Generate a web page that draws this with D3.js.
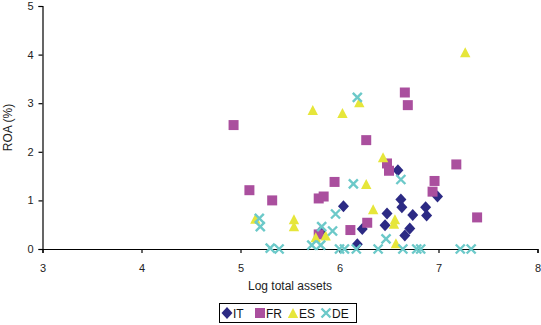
<!DOCTYPE html>
<html>
<head>
<meta charset="utf-8">
<script src="https://cdn.jsdelivr.net/npm/d3@7"></script>
<style>
  body { margin: 0; background: #fff; }
  svg { display: block; font-family: "Liberation Sans", Arial, sans-serif; }
</style>
</head>
<body>
<div id="chart"></div>
<script>
// Data: [log total assets, ROA %]
const itData = [
  [6.04, 0.88], [6.23, 0.41], [6.18, 0.10], [5.81, 0.36], [6.59, 1.62],
  [6.99, 1.08], [6.62, 1.02], [6.63, 0.86], [6.87, 0.86], [6.88, 0.69],
  [6.74, 0.70], [6.48, 0.73], [6.46, 0.49], [6.71, 0.42], [6.66, 0.28]
]
const frData = [
  [6.66, 3.22], [6.69, 2.96], [4.93, 2.55], [6.27, 2.24], [5.09, 1.21],
  [5.32, 1.00], [5.95, 1.38], [5.79, 1.04], [5.84, 1.08], [6.28, 0.54],
  [6.11, 0.39], [5.79, 0.30], [6.48, 1.76], [6.50, 1.61], [7.18, 1.74],
  [6.96, 1.40], [6.94, 1.18], [7.39, 0.65]
]
const esData = [
  [7.27, 4.05], [6.20, 3.02], [5.73, 2.86], [6.03, 2.80], [6.44, 1.89],
  [6.27, 1.34], [6.34, 0.82], [5.15, 0.62], [5.54, 0.61], [5.54, 0.47],
  [5.76, 0.24], [5.86, 0.28], [6.56, 0.61], [6.55, 0.52], [6.57, 0.12]
]
const deData = [
  [6.18, 3.12], [6.14, 1.34], [6.62, 1.43], [5.96, 0.72], [5.19, 0.63],
  [5.20, 0.46], [5.82, 0.46], [5.93, 0.37], [6.47, 0.21], [5.72, 0.08],
  [5.81, 0.08], [5.30, 0.02], [5.39, 0], [6.00, 0], [6.05, 0],
  [6.17, 0], [6.39, 0], [6.64, 0], [6.78, 0], [6.82, 0],
  [7.22, 0], [7.33, 0]
]
const seriesNames = ['IT', 'FR', 'ES', 'DE']
const xTicks = [3, 4, 5, 6, 7, 8]
const yTicks = [0, 1, 2, 3, 4, 5]

// Dimensions
const dimensions = {
  width: 541,
  height: 325,
  left: 42.5,
  right: 537.5,
  top: 6,
  bottom: 249
}

const colors = {
  IT: '#2c2a84',
  FR: '#aa4f9e',
  ES: '#e6e63a',
  DE: '#6cc9c9'
}

// marker paths, centred on 0,0
const shapes = {
  IT: 'M0,-6L5.5,0L0,6L-5.5,0Z',
  FR: 'M-5,-5H5V5H-5Z',
  ES: 'M0,-5L5.2,5H-5.2Z',
  DE: 'M-4.5,-4.5L4.5,4.5M-4.5,4.5L4.5,-4.5'
}

const svg = d3.select('#chart')
  .append('svg')
  .attr('width', dimensions.width)
  .attr('height', dimensions.height)

svg.append('rect')
  .attr('width', dimensions.width)
  .attr('height', dimensions.height)
  .attr('fill', '#fff')

// Scales
const xScale = d3.scaleLinear()
  .domain([3, 8])
  .range([dimensions.left, dimensions.right])

const yScale = d3.scaleLinear()
  .domain([0, 5])
  .range([dimensions.bottom, dimensions.top])

// Axes
const xAxis = d3.axisBottom(xScale)
  .tickValues(xTicks)
  .tickSize(4)
  .tickPadding(11)
  .tickFormat(d3.format('d'))

const yAxis = d3.axisLeft(yScale)
  .tickValues(yTicks)
  .tickSize(4)
  .tickPadding(5)
  .tickFormat(d3.format('d'))

const xAxisGroup = svg.append('g')
  .attr('transform', `translate(0, ${dimensions.bottom})`)
  .call(xAxis)

const yAxisGroup = svg.append('g')
  .attr('transform', `translate(${dimensions.left}, 0)`)
  .call(yAxis)

svg.selectAll('.domain, .tick line')
  .attr('stroke', '#000')
  .attr('stroke-width', 1.2)

svg.selectAll('.tick text')
  .attr('fill', '#222')
  .style('font-size', '11px')
  .style('font-family', '"Liberation Sans", Arial, sans-serif')

// Axis titles
svg.append('text')
  .attr('x', (dimensions.left + dimensions.right) / 2)
  .attr('y', 290)
  .attr('text-anchor', 'middle')
  .attr('fill', '#222')
  .style('font-size', '12px')
  .text('Log total assets')

svg.append('text')
  .attr('transform', `translate(12, ${(dimensions.top + dimensions.bottom) / 2}) rotate(-90)`)
  .attr('text-anchor', 'middle')
  .attr('fill', '#222')
  .style('font-size', '12px')
  .text('ROA (%)')

// Points
function drawSeries(name, data) {
  const g = svg.append('g').classed('series-' + name, true)
  const marks = g.selectAll('path')
    .data(data)
    .join('path')
    .attr('d', shapes[name])
    .attr('transform', d => `translate(${xScale(d[0])}, ${yScale(d[1])})`)

  if (name === 'DE') {
    marks.attr('fill', 'none')
      .attr('stroke', colors[name])
      .attr('stroke-width', 2.4)
  } else {
    marks.attr('fill', colors[name])
  }
}

drawSeries('IT', itData)
drawSeries('FR', frData)
drawSeries('ES', esData)
drawSeries('DE', deData)

// Legend
const legend = svg.append('g')

legend.append('rect')
  .attr('x', 219.5)
  .attr('y', 303.5)
  .attr('width', 137)
  .attr('height', 19)
  .attr('fill', '#fff')
  .attr('stroke', '#000')
  .attr('stroke-width', 1)

const legendX = d3.scalePoint()
  .domain(seriesNames)
  .range([227, 326])

const items = legend.selectAll('g.item')
  .data(seriesNames)
  .join('g')
  .classed('item', true)
  .attr('transform', d => `translate(${legendX(d)}, 313)`)

items.append('path')
  .attr('d', d => shapes[d])
  .attr('fill', d => d === 'DE' ? 'none' : colors[d])
  .attr('stroke', d => d === 'DE' ? colors[d] : 'none')
  .attr('stroke-width', 2.4)

items.append('text')
  .attr('x', 6)
  .attr('y', 4.5)
  .attr('fill', '#111')
  .style('font-size', '12px')
  .text(d => d)
</script>
</body>
</html>
